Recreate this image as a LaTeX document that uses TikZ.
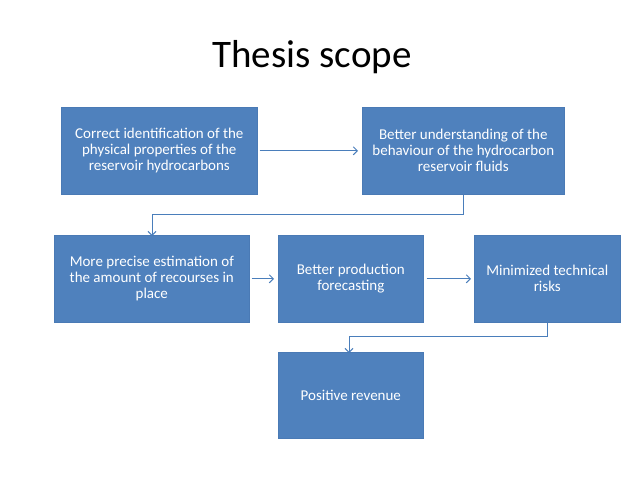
\documentclass[tikz,border=0pt]{standalone}
\usepackage{fontspec}
\setmainfont{Carlito}
\usetikzlibrary{arrows.meta}
\definecolor{boxblue}{HTML}{4F81BD}
\definecolor{boxedge}{HTML}{4A7AB5}
\definecolor{linkblue}{HTML}{4A7EBB}
\tikzset{
  stepbox/.style={rectangle, fill=boxblue, draw=boxedge, line width=0.6pt, text=white,
    font=\fontsize{15}{16}\selectfont, align=center, inner sep=0pt, anchor=north west},
  link/.style={draw=linkblue, line width=1pt, -{Straight Barb[length=4pt,width=8pt,line width=1pt]}},
}
\begin{document}
\begin{tikzpicture}[x=1pt,y=-1pt]
\useasboundingbox (0,0) rectangle (638,479);
\node[font=\fontsize{39}{44}\selectfont, anchor=base] (title) at (312,67) {Thesis scope};
\node[stepbox, minimum width=196pt, minimum height=87pt] (a) at (61,107)
  {Correct identification of the\\physical properties of the\\reservoir hydrocarbons};
\node[stepbox, minimum width=202pt, minimum height=87pt] (b) at (362,107)
  {Better understanding of the\\behaviour of the hydrocarbon\\reservoir fluids};
\node[stepbox, minimum width=195pt, minimum height=87pt] (c) at (54,235)
  {More precise estimation of\\the amount of recourses in\\place};
\node[stepbox, minimum width=145pt, minimum height=87pt] (d) at (278,235)
  {Better production\\forecasting};
\node[stepbox, minimum width=146pt, minimum height=87pt] (e) at (474,235)
  {Minimized technical\\risks};
\node[stepbox, minimum width=145pt, minimum height=86pt] (f) at (278,352)
  {Positive revenue};
\coordinate (bc1) at (463,214);
\coordinate (bc2) at (152,214);
\coordinate (ef1) at (547,336);
\coordinate (ef2) at (349,336);
\draw[link] ([xshift=2pt]a.east) -- ([xshift=-4pt]b.west);
\draw[link] (b.south -| bc1) -- (bc1) -- (bc2) -- ([yshift=-1pt]bc2 |- c.north);
\draw[link] ([xshift=2pt]c.east) -- ([xshift=-4pt]d.west);
\draw[link] ([xshift=3pt]d.east) -- ([xshift=-3pt]e.west);
\draw[link] (e.south -| ef1) -- (ef1) -- (ef2) -- ([yshift=-1pt]ef2 |- f.north);
\end{tikzpicture}
\end{document}
